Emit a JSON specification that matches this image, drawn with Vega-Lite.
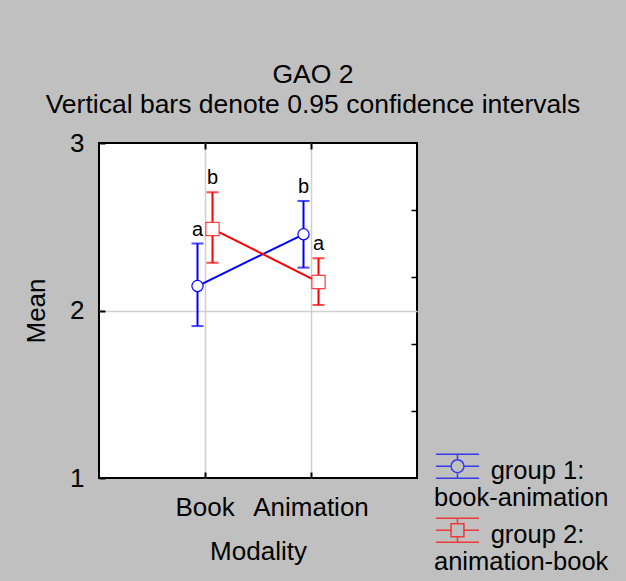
{
  "$schema": "https://vega.github.io/schema/vega-lite/v6.json",
  "width": 318,
  "height": 335,
  "autosize": {"type": "none"},
  "padding": {"left": 99, "top": 143, "right": 209, "bottom": 103},
  "background": "#c0c0c0",
  "title": {
    "text": "GAO 2",
    "subtitle": "Vertical bars denote 0.95 confidence intervals",
    "anchor": "middle",
    "frame": "group",
    "dx": 55,
    "fontSize": 26.5,
    "fontWeight": "normal",
    "color": "black",
    "subtitleFontSize": 26.5,
    "subtitleColor": "black",
    "subtitlePadding": 3,
    "offset": 12
  },
  "data": {
    "values": [
      {"modality": "Book", "group": "group 1", "mean": 2.146, "lo": 1.907, "hi": 2.40, "letter": "a"},
      {"modality": "Book", "group": "group 2", "mean": 2.487, "lo": 2.285, "hi": 2.706, "letter": "b"},
      {"modality": "Animation", "group": "group 1", "mean": 2.455, "lo": 2.256, "hi": 2.654, "letter": "b"},
      {"modality": "Animation", "group": "group 2", "mean": 2.170, "lo": 2.033, "hi": 2.312, "letter": "a"}
    ]
  },
  "layer": [
    {
      "encoding": {
        "x": {
          "field": "modality", "type": "nominal", "sort": ["Book", "Animation"],
          "scale": {"domain": ["Book", "Animation"], "paddingInner": 0, "paddingOuter": 0.5},
          "axis": {
            "title": "Modality", "labelAngle": 0, "bandPosition": 0.5,
            "tickSize": -6, "tickWidth": 2, "tickColor": "black", "domain": false,
            "grid": true, "gridColor": "#d0d0d0", "gridWidth": 1.5,
            "labelFontSize": 26, "labelColor": "black", "labelPadding": 22,
            "titleFontSize": 26, "titleFontWeight": "normal", "titleColor": "black", "titlePadding": 18
          }
        },
        "xOffset": {"field": "group", "type": "nominal", "scale": {"domain": ["group 1", "group 2"], "range": [38, 68], "paddingInner": 0, "paddingOuter": 0}}
      },
      "layer": [
        {
          "mark": {"type": "rule", "strokeWidth": 2},
          "encoding": {
            "y": {
              "field": "lo", "type": "quantitative", "title": "Mean",
              "scale": {"domain": [1, 3], "nice": false, "zero": false},
              "axis": {
                "values": [1, 2, 3], "title": "Mean",
                "labelExpr": "format(datum.value, '.0f')",
                "tickSize": -6, "tickWidth": 2, "tickColor": "black", "domain": false,
                "grid": true, "gridWidth": 1.5, "gridColor": "#d0d0d0",
                "gridOpacity": {"condition": {"test": "datum.value == 2", "value": 1}, "value": 0},
                "labelFontSize": 26, "labelColor": "black", "labelPadding": 21,
                "titleFontSize": 26, "titleFontWeight": "normal", "titleColor": "black", "titlePadding": 20
              }
            },
            "y2": {"field": "hi"},
            "stroke": {"field": "group", "type": "nominal", "scale": {"range": ["#0000ff", "#ff0000"]}, "legend": null}
          }
        },
        {
          "mark": {"type": "tick", "size": 12, "thickness": 2},
          "encoding": {
            "y": {"field": "lo", "type": "quantitative", "title": "Mean"},
            "fill": {"field": "group", "type": "nominal", "scale": {"range": ["#0000ff", "#ff0000"]}, "legend": null}
          }
        },
        {
          "mark": {"type": "tick", "size": 12, "thickness": 2},
          "encoding": {
            "y": {"field": "hi", "type": "quantitative", "title": "Mean"},
            "fill": {"field": "group", "type": "nominal", "scale": {"range": ["#0000ff", "#ff0000"]}, "legend": null}
          }
        },
        {
          "mark": {"type": "line", "strokeWidth": 2},
          "encoding": {
            "y": {"field": "mean", "type": "quantitative", "title": "Mean"},
            "stroke": {"field": "group", "type": "nominal", "scale": {"range": ["#0000ff", "#ff0000"]}, "legend": null}
          }
        },
        {
          "transform": [{"filter": "datum.group == 'group 1'"}],
          "mark": {"type": "point", "shape": "circle", "filled": true, "size": 125, "fill": "white", "stroke": "#0000ff", "strokeWidth": 1.2, "opacity": 1},
          "encoding": {"y": {"field": "mean", "type": "quantitative", "title": "Mean"}}
        },
        {
          "transform": [{"filter": "datum.group == 'group 2'"}],
          "mark": {"type": "point", "shape": "square", "filled": true, "size": 175, "fill": "white", "stroke": "#ff4040", "strokeWidth": 1.2, "opacity": 1},
          "encoding": {"y": {"field": "mean", "type": "quantitative", "title": "Mean"}}
        },
        {
          "mark": {"type": "text", "fontSize": 20, "baseline": "bottom", "dy": -4, "fill": "black"},
          "encoding": {
            "y": {"field": "hi", "type": "quantitative", "title": "Mean"},
            "text": {"field": "letter"}
          }
        }
      ]
    },
    {
      "transform": [{"filter": "false"}],
      "mark": {"type": "point", "filled": false, "strokeWidth": 1.5},
      "encoding": {
        "x": {
          "field": "modality", "type": "nominal", "sort": ["Book", "Animation"],
          "scale": {"domain": ["Book", "Animation"], "paddingInner": 0, "paddingOuter": 0.5},
          "axis": {"orient": "top", "labels": false, "title": null, "bandPosition": 0.5, "tickSize": -6, "tickWidth": 2, "tickColor": "black", "domain": false, "grid": false}
        },
        "y": {
          "field": "mean", "type": "quantitative",
          "scale": {"domain": [1, 3], "nice": false, "zero": false},
          "axis": {"orient": "right", "values": [1.4, 1.8, 2.2, 2.6], "labels": false, "title": null, "tickSize": -6, "tickWidth": 1.5, "tickColor": "black", "domain": false, "grid": false}
        },
        "color": {
          "field": "group", "type": "nominal",
          "scale": {"domain": ["group 1", "group 2"], "range": ["#0000ff", "#ff0000"]},
          "legend": {
            "title": null, "orient": "none", "legendX": 336, "legendY": 305,
            "labelFontSize": 25.5, "labelColor": "black", "labelLimit": 0,
            "symbolSize": 1849, "symbolStrokeWidth": 1.5, "labelOffset": -46, "rowPadding": -11,
            "labelExpr": "datum.label == 'group 1' ? ['\u200b\u00a0\u00a0\u00a0\u00a0\u00a0\u00a0\u00a0\u00a0group 1:', 'book-animation'] : ['\u200b\u00a0\u00a0\u00a0\u00a0\u00a0\u00a0\u00a0\u00a0group 2:', 'animation-book']"
          }
        },
        "shape": {
          "field": "group", "type": "nominal",
          "scale": {
            "domain": ["group 1", "group 2"],
            "range": [
              "M-1,-0.76H1M-1,0.36H1M-1,-0.2H-0.3M0.3,-0.2H1M0,-0.76V-0.5M0,0.1V0.36M0.3,-0.2A0.3,0.3,0,1,1,-0.3,-0.2A0.3,0.3,0,1,1,0.3,-0.2",
              "M-1,-0.76H1M-1,0.36H1M-1,-0.2H-0.3M0.3,-0.2H1M0,-0.76V-0.5M0,0.1V0.36M-0.3,-0.5H0.3V0.1H-0.3Z"
            ]
          },
          "legend": {
            "title": null, "orient": "none", "legendX": 336, "legendY": 305,
            "labelFontSize": 25.5, "labelColor": "black", "labelLimit": 0,
            "symbolSize": 1849, "symbolStrokeWidth": 1.5, "labelOffset": -46, "rowPadding": -11,
            "labelExpr": "datum.label == 'group 1' ? ['\u200b\u00a0\u00a0\u00a0\u00a0\u00a0\u00a0\u00a0\u00a0group 1:', 'book-animation'] : ['\u200b\u00a0\u00a0\u00a0\u00a0\u00a0\u00a0\u00a0\u00a0group 2:', 'animation-book']"
          }
        }
      }
    }
  ],
  "resolve": {"axis": {"x": "independent", "y": "independent"}},
  "config": {
    "font": "Liberation Sans",
    "view": {"stroke": "black", "strokeWidth": 2, "fill": "white"}
  }
}
